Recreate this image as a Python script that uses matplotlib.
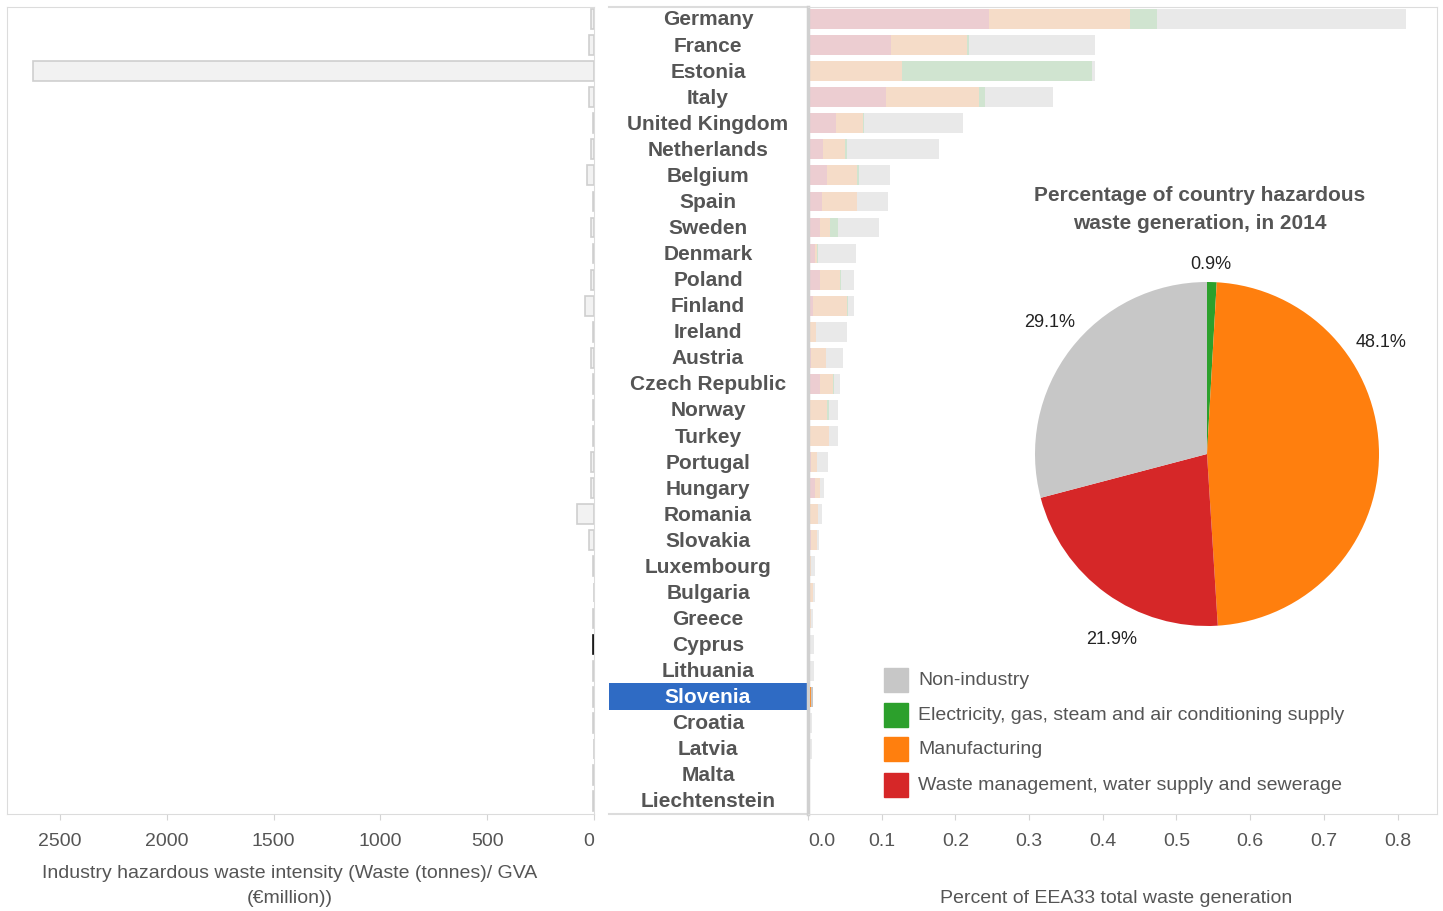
import numpy as np
import matplotlib
matplotlib.use('Agg')
import matplotlib.pyplot as plt
from matplotlib.patches import Rectangle

plt.rcParams['font.family'] = ['Liberation Sans', 'DejaVu Sans']

countries = ['Germany', 'France', 'Estonia', 'Italy', 'United Kingdom', 'Netherlands',
             'Belgium', 'Spain', 'Sweden', 'Denmark', 'Poland', 'Finland', 'Ireland',
             'Austria', 'Czech Republic', 'Norway', 'Turkey', 'Portugal', 'Hungary',
             'Romania', 'Slovakia', 'Luxembourg', 'Bulgaria', 'Greece', 'Cyprus',
             'Lithuania', 'Slovenia', 'Croatia', 'Latvia', 'Malta', 'Liechtenstein']

# industry hazardous waste intensity (tonnes / GVA EUR million)
intensity = [14, 24, 2626, 24, 5, 14, 33, 5, 14, 5, 14, 43, 5, 14, 5, 5, 5, 14, 14,
             80, 24, 5, 0, 5, 5, 5, 5, 5, 0, 5, 5]

# percent of EEA33 total waste generation, by sector
waste_mgmt = [0.246, 0.113, 0.000, 0.106, 0.038, 0.020, 0.026, 0.019, 0.016, 0.009,
              0.016, 0.007, 0.000, 0.004, 0.016, 0.003, 0.000, 0.004, 0.009, 0.003,
              0.004, 0.001, 0.000, 0.000, 0.000, 0.000, 0.002, 0.000, 0.000, 0.000, 0.000]
manufacturing = [0.191, 0.103, 0.127, 0.126, 0.037, 0.030, 0.041, 0.047, 0.014, 0.003,
                 0.028, 0.046, 0.011, 0.020, 0.018, 0.023, 0.028, 0.008, 0.007, 0.011,
                 0.008, 0.003, 0.007, 0.004, 0.001, 0.003, 0.002, 0.002, 0.000, 0.000, 0.000]
electricity = [0.036, 0.003, 0.259, 0.008, 0.001, 0.003, 0.002, 0.000, 0.011, 0.001,
               0.001, 0.001, 0.000, 0.001, 0.001, 0.002, 0.000, 0.000, 0.000, 0.000,
               0.000, 0.000, 0.000, 0.000, 0.000, 0.000, 0.000, 0.000, 0.000, 0.000, 0.000]
non_industry = [0.339, 0.171, 0.003, 0.093, 0.135, 0.125, 0.042, 0.043, 0.055, 0.052,
                0.017, 0.008, 0.042, 0.022, 0.008, 0.013, 0.013, 0.015, 0.006, 0.005,
                0.003, 0.005, 0.002, 0.003, 0.007, 0.005, 0.003, 0.003, 0.005, 0.003, 0.003]

selected = 'Slovenia'
outlined = 'Cyprus'

sectors = ['Non-industry', 'Electricity, gas, steam and air conditioning supply',
           'Manufacturing', 'Waste management, water supply and sewerage']
pie_share = {'Non-industry': 29.1,
             'Electricity, gas, steam and air conditioning supply': 0.9,
             'Manufacturing': 48.1,
             'Waste management, water supply and sewerage': 21.9}
pie_order = ['Electricity, gas, steam and air conditioning supply', 'Manufacturing',
             'Waste management, water supply and sewerage', 'Non-industry']

full = {'Non-industry': '#c7c7c7',
        'Electricity, gas, steam and air conditioning supply': '#2ca02c',
        'Manufacturing': '#ff7f0e',
        'Waste management, water supply and sewerage': '#d62728'}
pale = {'Non-industry': '#e9e9e9',
        'Electricity, gas, steam and air conditioning supply': '#d0e4d0',
        'Manufacturing': '#f5dcc8',
        'Waste management, water supply and sewerage': '#eccdd1'}

W, H = 1443, 912
txt = '#555555'
frame = '#dcdcdc'


def box(x0, y0, x1, y1):
    return [x0 / W, 1 - y1 / H, (x1 - x0) / W, (y1 - y0) / H]


fig = plt.figure(figsize=(W / 100, H / 100), dpi=100)
ax_l = fig.add_axes(box(7, 8, 594, 815))
ax_n = fig.add_axes(box(609, 8, 807, 815))
ax_r = fig.add_axes(box(808, 8, 1437, 815))

n = len(countries)
y = np.arange(n)
ylims = (30.5, -0.46)

# left panel: intensity
edges = ['#111111' if c == outlined else '#cfcfcf' for c in countries]
ax_l.barh(y, intensity, height=0.76, color='#f2f2f2', edgecolor=edges, linewidth=1.2)
ax_l.set_xlim(2748, 0)
ax_l.set_ylim(*ylims)
ax_l.set_yticks([])
ax_l.set_xticks([2500, 2000, 1500, 1000, 500, 0])
ax_l.set_xticklabels(['2500', '2000', '1500', '1000', '500', '0'])
ax_l.get_xticklabels()[-1].set_ha('right')
ax_l.tick_params(axis='x', length=4.3, color='#d4d4d4', labelsize=14, labelcolor=txt, pad=8.7)
for s in ax_l.spines.values():
    s.set_color(frame)

# country name column
ax_n.set_xlim(0, 1)
ax_n.set_ylim(*ylims)
ax_n.axis('off')
ax_n.plot([0, 1], [ylims[1], ylims[1]], color=frame, lw=1.5, clip_on=False)
ax_n.plot([0, 1], [ylims[0], ylims[0]], color=frame, lw=1.5, clip_on=False)
for i, c in enumerate(countries):
    col = txt
    if c == selected:
        ax_n.barh(i, 1, height=1.04, left=0, color='#2f6bc4')
        col = 'white'
    ax_n.text(0.5, i, c, ha='center', va='center', fontsize=15, weight='bold', color=col)

# right panel: stacked share bars
stack = [('Waste management, water supply and sewerage', waste_mgmt),
         ('Manufacturing', manufacturing),
         ('Electricity, gas, steam and air conditioning supply', electricity),
         ('Non-industry', non_industry)]
left = np.zeros(n)
for name, vals in stack:
    vals = np.array(vals)
    cols = [full[name] if c == selected else pale[name] for c in countries]
    ax_r.barh(y, vals, left=left, height=0.76, color=cols, linewidth=0)
    left += vals
ax_r.set_xlim(0, 0.8535)
ax_r.set_ylim(*ylims)
ax_r.set_yticks([])
ax_r.set_xticks(np.arange(0, 0.81, 0.1))
ax_r.set_xticklabels(['0.0', '0.1', '0.2', '0.3', '0.4', '0.5', '0.6', '0.7', '0.8'])
ax_r.get_xticklabels()[0].set_ha('left')
ax_r.tick_params(axis='x', length=4.3, color='#d4d4d4', labelsize=14, labelcolor=txt, pad=8.7)
for s in ax_r.spines.values():
    s.set_color(frame)
ax_r.spines['left'].set_color('#d0d0d0')
ax_r.spines['left'].set_linewidth(2.5)

# pie for the selected country
ax_p = fig.add_axes(box(1035, 283, 1379, 627))
ax_p.pie([pie_share[k] for k in pie_order], colors=[full[k] for k in pie_order],
         startangle=90, counterclock=False, radius=1,
         wedgeprops=dict(linewidth=0))
ax_p.set_xlim(-1, 1)
ax_p.set_ylim(-1, 1)

# overlay for titles, labels, legend
ax_o = fig.add_axes([0, 0, 1, 1])
ax_o.set_xlim(0, W)
ax_o.set_ylim(H, 0)
ax_o.axis('off')

ax_o.text(1200, 210, 'Percentage of country hazardous\nwaste generation, in 2014',
          ha='center', va='center', fontsize=15, weight='bold', color=txt, linespacing=1.6)

label_pos = {'Electricity, gas, steam and air conditioning supply': (1211, 265),
             'Manufacturing': (1381, 343),
             'Waste management, water supply and sewerage': (1112, 640),
             'Non-industry': (1050, 323)}
for k, (px, py) in label_pos.items():
    ax_o.text(px, py, f'{pie_share[k]}%', ha='center', va='center', fontsize=13,
              color='#222222')

leg_y = [681, 716, 750, 786]
for k, ly in zip(sectors, leg_y):
    ax_o.add_patch(Rectangle((884, ly - 12), 24, 24, color=full[k]))
    ax_o.text(918, ly, k, ha='left', va='center', fontsize=14, color=txt)

ax_o.text(290, 886, 'Industry hazardous waste intensity (Waste (tonnes)/ GVA\n(€million))',
          ha='center', va='center', fontsize=14, color=txt, linespacing=1.68)
ax_o.text(1116, 899, 'Percent of EEA33 total waste generation', ha='center', va='center',
          fontsize=14, color=txt)

plt.savefig('out.png', dpi=100)
